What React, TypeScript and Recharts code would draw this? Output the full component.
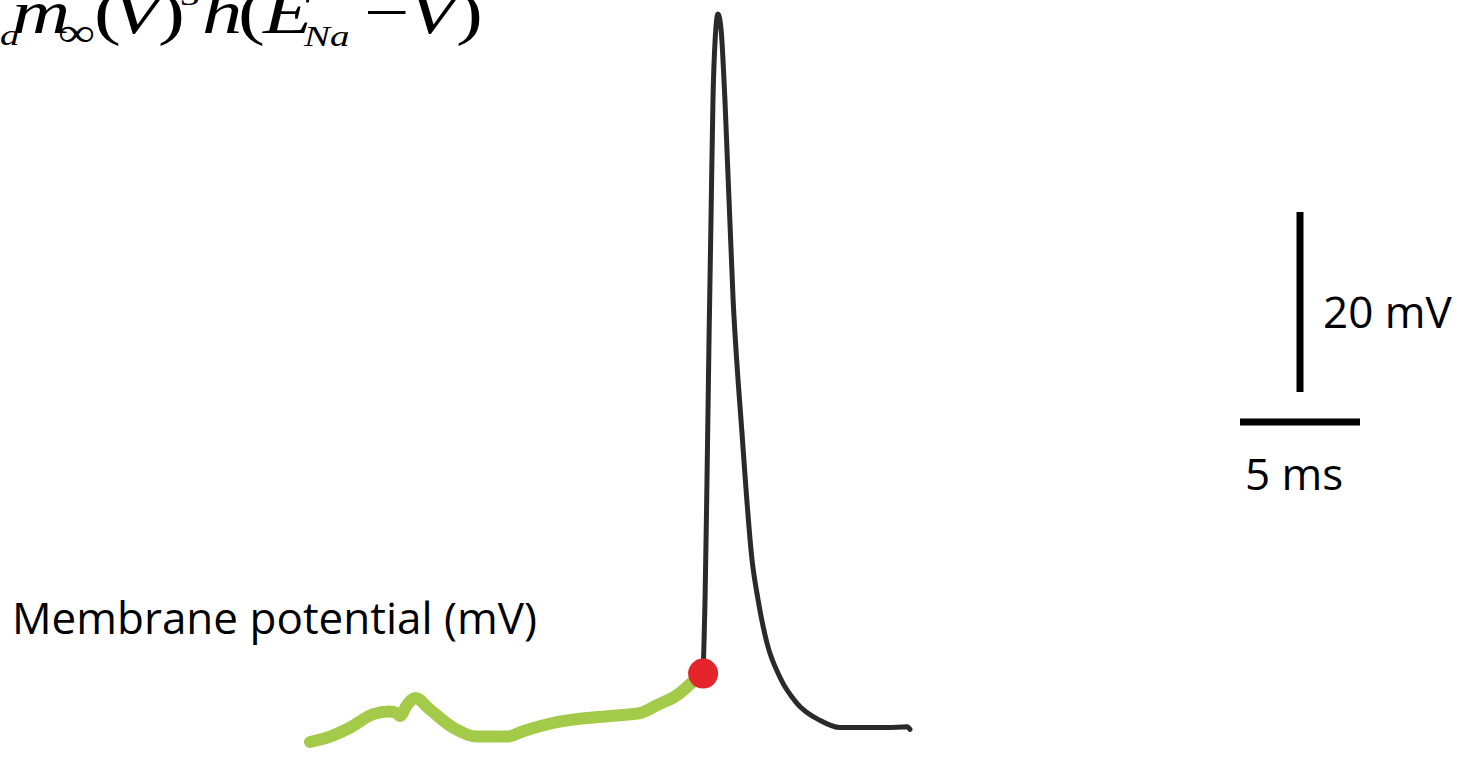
import React from "react";
import { LineChart, Line, XAxis, YAxis, ReferenceDot, ReferenceLine } from "recharts";

// time in ms, membrane potential in mV
const preTime = [0, 0.83, 1.67, 2.63, 3.3, 3.63, 3.75, 4.04, 4.38, 5.0, 5.96, 6.96, 8.21, 8.88, 10.29, 11.67, 13.04, 13.75, 14.46, 15.29, 15.96, 16.38];
const preMv = [-70.0, -69.4, -68.4, -66.9, -66.6, -66.8, -67.1, -65.9, -65.1, -66.4, -68.4, -69.4, -69.4, -68.8, -67.8, -67.3, -67.0, -66.8, -65.9, -64.8, -63.3, -62.4];

const spikeTime = [16.38, 16.42, 16.46, 16.54, 16.63, 16.71, 16.79, 16.88, 17.0, 17.13, 17.29, 17.63, 18.0, 18.42, 18.67, 19.04, 19.58, 20.29, 21.25, 22.08, 23.21, 24.04, 24.88, 25.0];
const spikeMv = [-62.4, -58.7, -54.2, -41.2, -24.6, -11.7, 1.3, 8.0, 10.9, 9.1, 1.3, -20.9, -35.7, -49.8, -54.2, -59.0, -62.8, -65.7, -67.6, -68.4, -68.4, -68.4, -68.3, -68.6];

const threshold = { t: 16.38, mv: -62.4 };
const scaleBarMv = 20;
const scaleBarMs = 5;
const scaleVertical = { t: 41.25, mv: -31.1 };
const scaleHorizontal = { t: 38.75, mv: -34.44 };

const preData = preTime.map((t, i) => ({ t, v: preMv[i] }));
const spikeData = spikeTime.map((t, i) => ({ t, v: spikeMv[i] }));

const W = 1466;
const H = 757;

const serif = "'Liberation Serif', 'DejaVu Serif', serif";
const sans = "'Open Sans', 'Noto Sans', sans-serif";

// the equation in the top-left corner is set in a horizontally stretched serif
const SX = 1.3;
const eq = (x: number) => x / SX;

export default function App() {
  return (
    <div style={{ position: "absolute", left: 0, top: 0, width: W, height: H, background: "#fff", overflow: "hidden" }}>
      <LineChart width={W} height={H} margin={{ top: 0, right: 0, bottom: 0, left: 0 }}>
        <XAxis dataKey="t" type="number" domain={[-12.917, 48.167]} hide allowDataOverflow />
        <YAxis dataKey="v" type="number" domain={[-71.667, 12.444]} hide allowDataOverflow />
        <Line
          data={spikeData}
          dataKey="v"
          type="monotone"
          stroke="#2a2a2a"
          strokeWidth={5}
          strokeLinecap="round"
          strokeLinejoin="round"
          dot={false}
          activeDot={false}
          isAnimationActive={false}
        />
        <Line
          data={preData}
          dataKey="v"
          type="monotone"
          stroke="#a4ca4a"
          strokeWidth={12}
          strokeLinecap="round"
          strokeLinejoin="round"
          dot={false}
          activeDot={false}
          isAnimationActive={false}
        />
        <ReferenceDot x={threshold.t} y={threshold.mv} r={15} fill="#e5252c" stroke="none" />
        <ReferenceLine
          segment={[{ x: scaleVertical.t, y: scaleVertical.mv }, { x: scaleVertical.t, y: scaleVertical.mv + scaleBarMv }]}
          stroke="#000"
          strokeWidth={7}
        />
        <ReferenceLine
          segment={[{ x: scaleHorizontal.t, y: scaleHorizontal.mv }, { x: scaleHorizontal.t + scaleBarMs, y: scaleHorizontal.mv }]}
          stroke="#000"
          strokeWidth={7}
        />
      </LineChart>
      <svg width={W} height={H} style={{ position: "absolute", left: 0, top: 0, pointerEvents: "none" }}>
        <g transform={`scale(${SX},1)`} fontFamily={serif} fontStyle="italic" fill="#000">
          <text x={eq(0)} y={45} fontSize={30}>a</text>
          <text x={eq(12)} y={33} fontSize={62}>m</text>
          <text x={eq(58)} y={46} fontSize={40} fontStyle="normal">∞</text>
          <text x={eq(94)} y={33} fontSize={62} fontStyle="normal">(</text>
          <text x={eq(112)} y={33} fontSize={62}>V</text>
          <text x={eq(158)} y={33} fontSize={62} fontStyle="normal">)</text>
          <text x={eq(180)} y={5} fontSize={30} fontStyle="normal">3</text>
          <text x={eq(202)} y={33} fontSize={62}>h</text>
          <text x={eq(238)} y={33} fontSize={62} fontStyle="normal">(</text>
          <text x={eq(263)} y={33} fontSize={62}>E</text>
          <text x={eq(304)} y={46} fontSize={30}>Na</text>
          <text x={eq(364)} y={33} fontSize={62} fontStyle="normal">−</text>
          <text x={eq(408)} y={33} fontSize={62}>V</text>
          <text x={eq(456)} y={33} fontSize={62} fontStyle="normal">)</text>
        </g>
        <g fontFamily={sans} fill="#000" fontSize={44}>
          <text x={12} y={634}>Membrane potential (mV)</text>
          <text x={1323} y={328}>20 mV</text>
          <text x={1245} y={490}>5 ms</text>
        </g>
      </svg>
    </div>
  );
}
